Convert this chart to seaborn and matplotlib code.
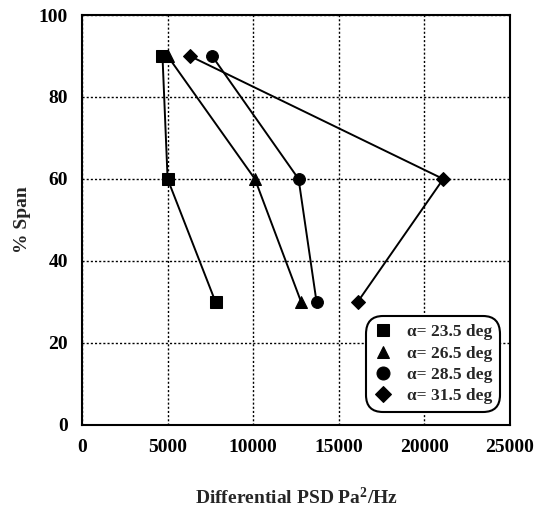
import numpy as np
import pandas as pd
import matplotlib
matplotlib.use("Agg")
import matplotlib.pyplot as plt
import seaborn as sns

span = [30, 60, 90]
psd_235 = [7800, 5000, 4700]
psd_265 = [12800, 10100, 5000]
psd_285 = [13700, 12650, 7600]
psd_315 = [16100, 21100, 6300]
labels = ["α= 23.5 deg", "α= 26.5 deg", "α= 28.5 deg", "α= 31.5 deg"]
series = [psd_235, psd_265, psd_285, psd_315]
marker_list = ["s", "^", "o", "D"]
xticks = [0, 5000, 10000, 15000, 20000, 25000]
yticks = [0, 20, 40, 60, 80, 100]

rows = []
for lab, vals in zip(labels, series):
    for s, v in zip(span, vals):
        rows.append({"psd": v, "span": s, "series": lab})
df = pd.DataFrame(rows)

sns.set_style("white")
plt.rcParams['font.family'] = ['Liberation Serif', 'DejaVu Serif']
plt.rcParams['font.weight'] = 'bold'
plt.rcParams['mathtext.fontset'] = 'custom'
plt.rcParams['mathtext.rm'] = 'Liberation Serif:bold'
plt.rcParams['mathtext.it'] = 'Liberation Serif:bold'

fig = plt.figure(figsize=(5.41, 5.21), dpi=100)
ax = fig.add_axes([0.1516, 0.1843, 0.7911, 0.7869])

sns.lineplot(data=df, x="psd", y="span", hue="series", style="series",
             markers=dict(zip(labels, marker_list)), dashes=False,
             palette=["black"] * 4, sort=False, estimator=None,
             markersize=8.5, markeredgecolor="black", linewidth=1.4, ax=ax)

for ln in ax.lines:
    if ln.get_marker() == "D":
        ln.set_markersize(7)

ax.set_xlim(0, 25000)
ax.set_ylim(0, 100)
ax.set_xticks(xticks)
ax.set_yticks(yticks)
ax.set_xticklabels([str(t) for t in xticks], fontsize=14, fontweight='bold')
ax.set_yticklabels([str(t) for t in yticks], fontsize=14, fontweight='bold')
ax.grid(True, color="black", linestyle=(0, (1.5, 1.5)), linewidth=1.0)
for sp in ax.spines.values():
    sp.set_color("black")
    sp.set_linewidth(1.5)
ax.tick_params(axis='both', direction='inout', length=8, width=1.5, colors='black', pad=6)

ax.set_xlabel(r"Differential PSD Pa$^2$/Hz", fontsize=14, fontweight='bold', labelpad=22)
ax.set_ylabel("% Span", fontsize=14, fontweight='bold', labelpad=6)

leg = ax.legend(loc="lower right", bbox_to_anchor=(0.997, 0.01),
                frameon=True, fancybox=True, edgecolor="black", framealpha=1,
                handlelength=1.0, handletextpad=0.9, borderpad=0.45, labelspacing=0.3,
                markerscale=1.1,
                prop={'weight': 'bold', 'size': 12.5})
leg.get_frame().set_linewidth(1.5)
leg.get_frame().set_boxstyle("round,pad=0,rounding_size=1.0")
for h in leg.legend_handles:
    h.set_linestyle("none")

fig.savefig("out.png", dpi=100)
